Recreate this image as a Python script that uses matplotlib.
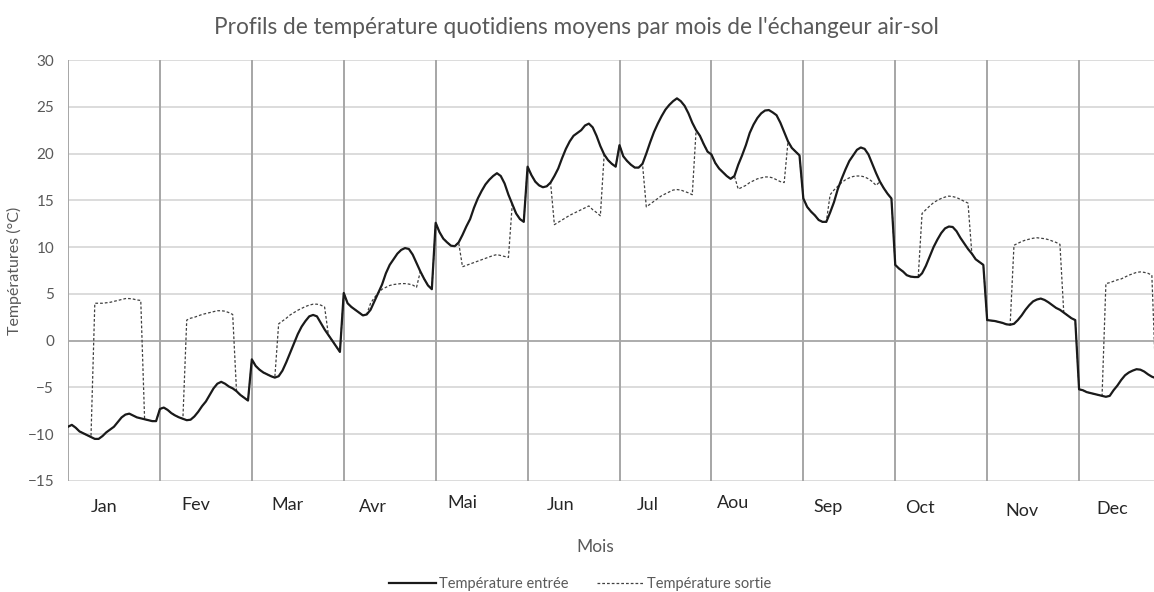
import numpy as np
import matplotlib
matplotlib.use("Agg")
import matplotlib.pyplot as plt
from matplotlib.lines import Line2D

plt.rcParams['font.family'] = ['Lato', 'DejaVu Sans']

# mois (libellés de l'axe)
months = ["Jan", "Fev", "Mar", "Avr", "Mai", "Jun",
          "Jul", "Aou", "Sep", "Oct", "Nov", "Dec"]

# température entrée, profil horaire moyen 0h..23h par mois (°C)
jan_in = [-9.2, -9.0, -9.3, -9.7, -9.9, -10.1, -10.3, -10.5, -10.5, -10.2, -9.8, -9.5,
          -9.2, -8.7, -8.2, -7.9, -7.8, -8.0, -8.2, -8.3, -8.4, -8.5, -8.6, -8.6]
feb_in = [-7.3, -7.15, -7.4, -7.75, -8.0, -8.2, -8.35, -8.5, -8.45, -8.1, -7.6, -7.0,
          -6.5, -5.8, -5.1, -4.6, -4.4, -4.6, -4.9, -5.1, -5.4, -5.8, -6.1, -6.4]
mar_in = [-2.0, -2.7, -3.1, -3.4, -3.6, -3.8, -3.95, -3.8, -3.2, -2.3, -1.3, -0.3,
          0.7, 1.5, 2.1, 2.6, 2.75, 2.6, 1.9, 1.2, 0.6, 0.0, -0.6, -1.2]
apr_in = [5.1, 4.0, 3.6, 3.3, 3.0, 2.7, 2.8, 3.3, 4.2, 5.1, 6.0, 7.2,
          8.1, 8.7, 9.3, 9.7, 9.9, 9.8, 9.2, 8.3, 7.4, 6.6, 5.9, 5.5]
may_in = [12.6, 11.6, 10.9, 10.5, 10.15, 10.1, 10.5, 11.3, 12.2, 13.0, 14.2, 15.2,
          16.0, 16.7, 17.2, 17.6, 17.9, 17.6, 16.8, 15.6, 14.6, 13.6, 13.0, 12.7]
jun_in = [18.6, 17.7, 17.0, 16.6, 16.4, 16.5, 16.9, 17.6, 18.4, 19.5, 20.5, 21.3,
          21.9, 22.2, 22.5, 23.0, 23.2, 22.8, 21.9, 20.8, 19.9, 19.3, 18.9, 18.6]
jul_in = [20.9, 19.7, 19.2, 18.8, 18.5, 18.5, 18.9, 20.0, 21.2, 22.3, 23.2, 24.0,
          24.7, 25.2, 25.6, 25.9, 25.6, 25.1, 24.3, 23.3, 22.5, 21.9, 21.0, 20.2]
aug_in = [19.9, 19.0, 18.4, 18.0, 17.6, 17.3, 17.6, 18.8, 19.8, 20.9, 22.2, 23.1,
          23.8, 24.3, 24.6, 24.65, 24.4, 24.1, 23.3, 22.3, 21.3, 20.6, 20.2, 19.8]
sep_in = [15.2, 14.3, 13.8, 13.4, 12.9, 12.7, 12.7, 13.7, 14.8, 16.2, 17.3, 18.3,
          19.2, 19.8, 20.4, 20.65, 20.5, 19.9, 18.9, 17.9, 17.0, 16.3, 15.7, 15.2]
oct_in = [8.1, 7.7, 7.4, 7.0, 6.85, 6.8, 6.8, 7.2, 8.0, 9.0, 10.0, 10.8,
          11.5, 12.0, 12.2, 12.15, 11.7, 11.0, 10.4, 9.8, 9.3, 8.7, 8.4, 8.1]
nov_in = [2.2, 2.15, 2.1, 2.0, 1.9, 1.75, 1.7, 1.8, 2.2, 2.7, 3.3, 3.8,
          4.2, 4.4, 4.5, 4.35, 4.1, 3.8, 3.5, 3.3, 3.0, 2.7, 2.4, 2.2]
dec_in = [-5.2, -5.3, -5.5, -5.6, -5.7, -5.8, -5.9, -6.0, -5.9, -5.3, -4.8, -4.2,
          -3.7, -3.4, -3.2, -3.05, -3.1, -3.3, -3.6, -3.85, -4.0, -4.2, -4.5, -4.8]

# température sortie pendant le fonctionnement (7h..19h), sinon = entrée
jan_out = [4.0, 4.0, 4.0, 4.05, 4.1, 4.2, 4.3, 4.4, 4.5, 4.5, 4.45, 4.35, 4.3]
feb_out = [2.2, 2.4, 2.5, 2.65, 2.8, 2.9, 3.0, 3.1, 3.2, 3.2, 3.15, 3.0, 2.8]
mar_out = [1.8, 2.1, 2.4, 2.75, 3.0, 3.25, 3.45, 3.65, 3.8, 3.9, 3.9, 3.8, 3.6]
apr_out = [4.0, 4.6, 5.1, 5.5, 5.7, 5.9, 6.0, 6.05, 6.1, 6.1, 6.05, 5.95, 5.7]
may_out = [7.9, 8.05, 8.2, 8.35, 8.5, 8.65, 8.8, 8.95, 9.1, 9.2, 9.1, 9.0, 8.9]
jun_out = [12.4, 12.65, 12.9, 13.15, 13.4, 13.6, 13.8, 14.0, 14.2, 14.4, 14.0, 13.7, 13.35]
jul_out = [14.3, 14.6, 14.9, 15.2, 15.5, 15.7, 15.9, 16.1, 16.15, 16.1, 15.95, 15.8, 15.6]
aug_out = [16.2, 16.4, 16.6, 16.9, 17.1, 17.3, 17.4, 17.5, 17.5, 17.4, 17.2, 17.0, 16.9]
sep_out = [15.6, 16.1, 16.5, 16.9, 17.2, 17.4, 17.55, 17.6, 17.6, 17.5, 17.3, 17.0, 16.6]
oct_out = [13.6, 14.0, 14.4, 14.75, 15.0, 15.2, 15.35, 15.45, 15.4, 15.3, 15.1, 14.9, 14.7]
nov_out = [10.2, 10.4, 10.6, 10.75, 10.85, 10.95, 11.0, 10.95, 10.9, 10.8, 10.65, 10.5, 10.3]
dec_out = [6.1, 6.2, 6.35, 6.5, 6.6, 6.8, 7.0, 7.15, 7.3, 7.35, 7.3, 7.2, 7.0]

h_start, h_end = 7, 19  # heures de fonctionnement

t_in = [jan_in, feb_in, mar_in, apr_in, may_in, jun_in,
        jul_in, aug_in, sep_in, oct_in, nov_in, dec_in]
t_out = [jan_out, feb_out, mar_out, apr_out, may_out, jun_out,
         jul_out, aug_out, sep_out, oct_out, nov_out, dec_out]

entree = np.concatenate(t_in)
sortie = []
for a, b in zip(t_in, t_out):
    m = list(a)
    m[h_start:h_end + 1] = b
    sortie += m
sortie = np.array(sortie)
x = np.arange(len(entree))

# position des libellés de mois (en heures, et en pixels sous l'axe)
label_x = [9.4, 33.4, 57.2, 79.6, 102.9, 128.5, 151.4, 173.7, 198.4, 222.5, 249.1, 272.6]
label_px = [507, 505, 505, 507, 503, 505, 505, 503, 507, 508, 511, 509]

W, H = 1154, 592
fig = plt.figure(figsize=(W / 100, H / 100), dpi=100)
# la zone de tracé dépasse à droite (décembre coupé comme dans l'original)
ax_l, ax_r, ax_t, ax_b = 68, 1171, 60, 481
ax = fig.add_axes([ax_l / W, 1 - ax_b / H, (ax_r - ax_l) / W, (ax_b - ax_t) / H])

ax.plot(x, sortie, color='#404040', lw=0.9, ls=(0, (2.2, 1.6)), zorder=3)
ax.plot(x, entree, color='#1a1a1a', lw=1.6, zorder=4)

ax.set_xlim(0, 24 * len(months))
ax.set_ylim(-15, 30)
ax.set_yticks(range(-15, 31, 5))
ax.set_xticks([])
for y in range(-15, 31, 5):
    ax.axhline(y, color='#a6a6a6' if y == 0 else '#d9d9d9', lw=1.3, zorder=1)
for i in range(len(months) + 1):
    ax.axvline(24 * i, color='#a6a6a6', lw=1.4, zorder=2)
for s in ax.spines.values():
    s.set_visible(False)
ax.tick_params(axis='y', length=0, pad=10, labelsize=11, labelcolor='#595959')

for name, lx, py in zip(months, label_x, label_px):
    ax.text(lx, (ax_b - py) / (ax_b - ax_t), name, transform=ax.get_xaxis_transform(),
            ha='center', va='center', fontsize=13, color='#262626')

ax.set_ylabel("Températures (°C)", fontsize=11.5, color='#595959', labelpad=4)
fig.text(595 / W, 1 - 547 / H, "Mois", ha='center', va='center',
         fontsize=12.5, color='#595959')
fig.text(576 / W, 1 - 27 / H,
         "Profils de température quotidiens moyens par mois de l'échangeur air-sol",
         ha='center', va='center', fontsize=16.3, color='#595959')

handles = [Line2D([], [], color='#1a1a1a', lw=1.6),
           Line2D([], [], color='#404040', lw=0.9, ls=(0, (2.2, 1.6)))]
fig.legend(handles, ["Température entrée", "Température sortie"],
           loc='center', bbox_to_anchor=(580 / W, 1 - 584 / H), ncol=2,
           frameon=False, fontsize=10.5, labelcolor='#595959',
           handlelength=3.2, handletextpad=0.2, columnspacing=2.0)

fig.savefig("out.png", dpi=100)
